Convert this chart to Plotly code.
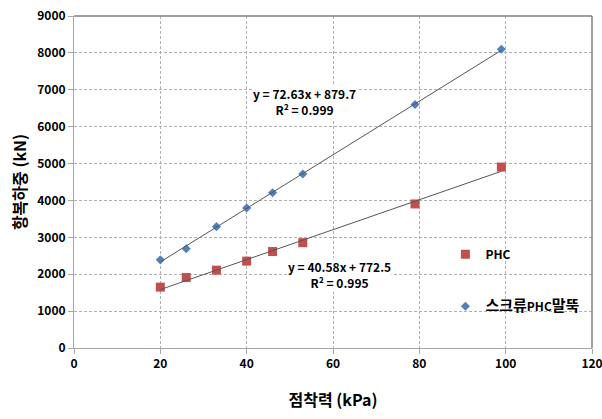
import plotly.graph_objects as go

# Cohesion (kPa) of each test case
cohesion = [20, 26, 33, 40, 46, 53, 79, 99]

# Yield load (kN)
phc_load = [1650, 1910, 2110, 2355, 2615, 2855, 3905, 4905]
screw_load = [2390, 2690, 3290, 3795, 4210, 4715, 6600, 8100]

# Linear fits: (slope, intercept, R²)
phc_fit = (40.58, 772.5, 0.995)
screw_fit = (72.63, 879.7, 0.999)
fit_range = [20, 99]

FONT = "Noto Sans CJK KR"
BOLD = dict(family=FONT, color="black", weight="bold")

fig = go.Figure()

fig.add_trace(go.Scatter(
    x=cohesion, y=phc_load, mode="markers", name="PHC",
    marker=dict(symbol="square", size=9, color="#c0504d"),
    legendgroup="a",
))
fig.add_trace(go.Scatter(
    x=cohesion, y=screw_load, mode="markers",
    name="<span style='font-size:15px'>스크류</span>PHC<span style='font-size:15px'>말뚝</span>",
    marker=dict(symbol="diamond", size=7, color="#4f81bd"),
    legendgroup="b",
))

for slope, icpt, _ in (phc_fit, screw_fit):
    fig.add_trace(go.Scatter(
        x=fit_range, y=[slope * v + icpt for v in fit_range],
        mode="lines", line=dict(color="#555555", width=1),
        showlegend=False, hoverinfo="skip",
    ))

def fit_label(fit):
    slope, icpt, r2 = fit
    return f"y = {slope:.2f}x + {icpt:.1f}<br>R² = {r2:.3f}"

fig.add_annotation(x=53.5, y=6680, text=fit_label(screw_fit), showarrow=False,
                   font=dict(size=12, **BOLD), bgcolor="white", borderpad=0)
fig.add_annotation(x=61.4, y=1980, text=fit_label(phc_fit), showarrow=False,
                   font=dict(size=12, **BOLD), bgcolor="white", borderpad=0)

grid = dict(showgrid=True, gridcolor="#b0b0b0", griddash="3px,2px", gridwidth=1)
axis_common = dict(
    **grid, showline=True, linecolor="#a6a6a6", linewidth=1,
    ticks="outside", ticklen=5, tickcolor="#a6a6a6",
    tickfont=dict(size=12, **BOLD), zeroline=False,
    ticklabeloverflow="allow", automargin=False,
)

fig.update_xaxes(
    range=[0, 120], dtick=20, **axis_common,
    title=dict(text="점착력 (kPa)", font=dict(size=16, **BOLD), standoff=24),
)
fig.update_yaxes(
    range=[0, 9000], dtick=1000, **axis_common,
    title=dict(text="항복하중 (kN)", font=dict(size=16, **BOLD), standoff=6),
)

# Plot area frame on the top and right sides
fig.add_shape(type="line", xref="paper", yref="paper", x0=0, x1=1, y0=1, y1=1,
              line=dict(color="#808080", width=1.5))
fig.add_shape(type="line", xref="paper", yref="paper", x0=1, x1=1, y0=0, y1=1,
              line=dict(color="#808080", width=1.5))

fig.update_layout(
    width=602, height=419,
    margin=dict(l=74, r=10, t=16, b=71),
    paper_bgcolor="white", plot_bgcolor="white",
    font=dict(family=FONT, color="black"),
    legend=dict(x=0.717, y=0.326, xanchor="left", yanchor="top",
                bgcolor="rgba(0,0,0,0)", tracegroupgap=33,
                font=dict(size=12, **BOLD)),
)

fig.write_html("out.html")
